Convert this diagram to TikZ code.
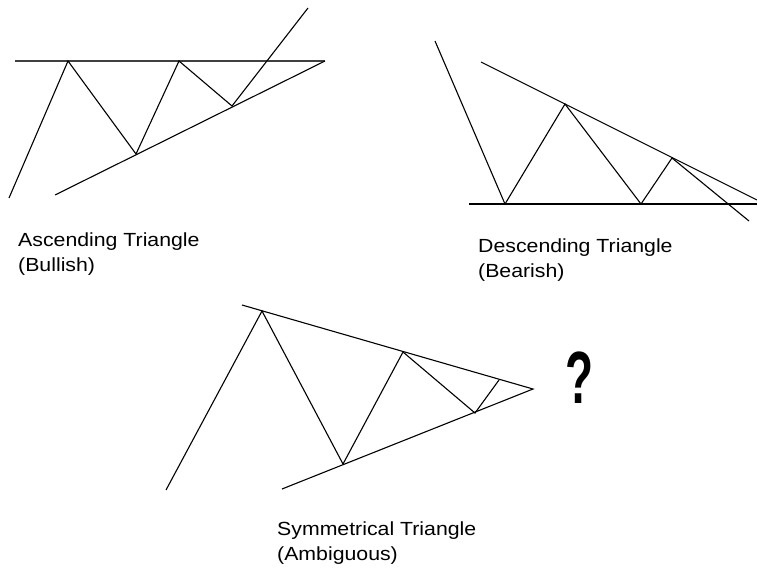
\documentclass[tikz,border=0pt]{standalone}
\usepackage{fontspec}
\newfontfamily\lblfont{Liberation Sans}[FakeStretch=1.12]
\newfontfamily\qfont{Liberation Sans}[FakeStretch=0.62]

\begin{document}
\begin{tikzpicture}[x=1pt,y=-1pt,
    trendline/.style={line width=1.1pt, line join=miter},
    lbl/.style={font=\lblfont\fontsize{19}{25}\selectfont, align=left, anchor=base west, inner sep=0pt}]
    \useasboundingbox (0,0) rectangle (757,568);
    % Triangulo ascendente
    \draw[line width=1.6pt, black!75] (15,61) -- (325,61);
    \draw[trendline] (55,195) -- (325,61);
    \draw[trendline] (9,198) -- (68,61) -- (136,154) -- (179,61) -- (232,106) -- (308,8);
    \node[lbl] (asclbl) at (18,271) {Ascending Triangle\\(Bullish)};
    % Triangulo descendente
    \draw[trendline] (469,204) -- (757,204);
    \draw[trendline] (481,62) -- (757,200);
    \draw[trendline] (435,41) -- (505,204) -- (565,104) -- (641,204) -- (672,158) -- (749,221);
    \node[lbl] (desclbl) at (478,277) {Descending Triangle\\(Bearish)};
    % Triangulo simetrico
    \draw[trendline] (242,305) -- (533,389) -- (282,489);
    \draw[trendline] (166,490) -- (262,311) -- (343,464) -- (403,352) -- (475,413) -- (499,380);
    \node[lbl] (symlbl) at (277,560) {Symmetrical Triangle\\(Ambiguous)};
    % Interrogacao
    \node[font=\qfont\bfseries\fontsize{74}{74}\selectfont, anchor=base, inner sep=0pt] (query) at (580,403) {?};
\end{tikzpicture}
\end{document}
